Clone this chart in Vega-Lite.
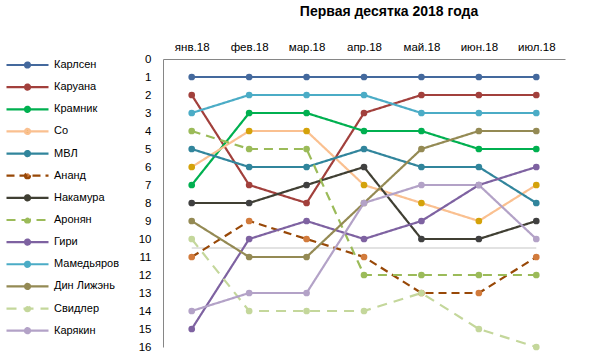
{
  "$schema": "https://vega.github.io/schema/vega-lite/v6.json",
  "width": 402,
  "height": 288,
  "autosize": {"type": "none"},
  "padding": {"left": 163, "top": 59, "right": 33, "bottom": 17},
  "background": "white",
  "title": {"text": "Первая десятка 2018 года", "font": "Liberation Sans", "fontSize": 14, "fontWeight": "bold", "color": "#000000", "anchor": "middle", "frame": "group", "dx": 25, "offset": 22},
  "config": {"view": {"stroke": null}, "font": "Liberation Sans", "axisY": {"labelOverlap": false, "tickCount": 17}},
  "data": {"values": [
    {"name": "Карлсен", "m": "янв.18", "r": 1}, {"name": "Карлсен", "m": "фев.18", "r": 1}, {"name": "Карлсен", "m": "мар.18", "r": 1}, {"name": "Карлсен", "m": "апр.18", "r": 1}, {"name": "Карлсен", "m": "май.18", "r": 1}, {"name": "Карлсен", "m": "июн.18", "r": 1}, {"name": "Карлсен", "m": "июл.18", "r": 1},
    {"name": "Каруана", "m": "янв.18", "r": 2}, {"name": "Каруана", "m": "фев.18", "r": 7}, {"name": "Каруана", "m": "мар.18", "r": 8}, {"name": "Каруана", "m": "апр.18", "r": 3}, {"name": "Каруана", "m": "май.18", "r": 2}, {"name": "Каруана", "m": "июн.18", "r": 2}, {"name": "Каруана", "m": "июл.18", "r": 2},
    {"name": "Крамник", "m": "янв.18", "r": 7}, {"name": "Крамник", "m": "фев.18", "r": 3}, {"name": "Крамник", "m": "мар.18", "r": 3}, {"name": "Крамник", "m": "апр.18", "r": 4}, {"name": "Крамник", "m": "май.18", "r": 4}, {"name": "Крамник", "m": "июн.18", "r": 5}, {"name": "Крамник", "m": "июл.18", "r": 5},
    {"name": "Со", "m": "янв.18", "r": 6}, {"name": "Со", "m": "фев.18", "r": 4}, {"name": "Со", "m": "мар.18", "r": 4}, {"name": "Со", "m": "апр.18", "r": 7}, {"name": "Со", "m": "май.18", "r": 8}, {"name": "Со", "m": "июн.18", "r": 9}, {"name": "Со", "m": "июл.18", "r": 7},
    {"name": "МВЛ", "m": "янв.18", "r": 5}, {"name": "МВЛ", "m": "фев.18", "r": 6}, {"name": "МВЛ", "m": "мар.18", "r": 6}, {"name": "МВЛ", "m": "апр.18", "r": 5}, {"name": "МВЛ", "m": "май.18", "r": 6}, {"name": "МВЛ", "m": "июн.18", "r": 6}, {"name": "МВЛ", "m": "июл.18", "r": 8},
    {"name": "Ананд", "m": "янв.18", "r": 11}, {"name": "Ананд", "m": "фев.18", "r": 9}, {"name": "Ананд", "m": "мар.18", "r": 10}, {"name": "Ананд", "m": "апр.18", "r": 11}, {"name": "Ананд", "m": "май.18", "r": 13}, {"name": "Ананд", "m": "июн.18", "r": 13}, {"name": "Ананд", "m": "июл.18", "r": 11},
    {"name": "Накамура", "m": "янв.18", "r": 8}, {"name": "Накамура", "m": "фев.18", "r": 8}, {"name": "Накамура", "m": "мар.18", "r": 7}, {"name": "Накамура", "m": "апр.18", "r": 6}, {"name": "Накамура", "m": "май.18", "r": 10}, {"name": "Накамура", "m": "июн.18", "r": 10}, {"name": "Накамура", "m": "июл.18", "r": 9},
    {"name": "Аронян", "m": "янв.18", "r": 4}, {"name": "Аронян", "m": "фев.18", "r": 5}, {"name": "Аронян", "m": "мар.18", "r": 5}, {"name": "Аронян", "m": "апр.18", "r": 12}, {"name": "Аронян", "m": "май.18", "r": 12}, {"name": "Аронян", "m": "июн.18", "r": 12}, {"name": "Аронян", "m": "июл.18", "r": 12},
    {"name": "Гири", "m": "янв.18", "r": 15}, {"name": "Гири", "m": "фев.18", "r": 10}, {"name": "Гири", "m": "мар.18", "r": 9}, {"name": "Гири", "m": "апр.18", "r": 10}, {"name": "Гири", "m": "май.18", "r": 9}, {"name": "Гири", "m": "июн.18", "r": 7}, {"name": "Гири", "m": "июл.18", "r": 6},
    {"name": "Мамедьяров", "m": "янв.18", "r": 3}, {"name": "Мамедьяров", "m": "фев.18", "r": 2}, {"name": "Мамедьяров", "m": "мар.18", "r": 2}, {"name": "Мамедьяров", "m": "апр.18", "r": 2}, {"name": "Мамедьяров", "m": "май.18", "r": 3}, {"name": "Мамедьяров", "m": "июн.18", "r": 3}, {"name": "Мамедьяров", "m": "июл.18", "r": 3},
    {"name": "Дин Лижэнь", "m": "янв.18", "r": 9}, {"name": "Дин Лижэнь", "m": "фев.18", "r": 11}, {"name": "Дин Лижэнь", "m": "мар.18", "r": 11}, {"name": "Дин Лижэнь", "m": "апр.18", "r": 8}, {"name": "Дин Лижэнь", "m": "май.18", "r": 5}, {"name": "Дин Лижэнь", "m": "июн.18", "r": 4}, {"name": "Дин Лижэнь", "m": "июл.18", "r": 4},
    {"name": "Свидлер", "m": "янв.18", "r": 10}, {"name": "Свидлер", "m": "фев.18", "r": 14}, {"name": "Свидлер", "m": "мар.18", "r": 14}, {"name": "Свидлер", "m": "апр.18", "r": 14}, {"name": "Свидлер", "m": "май.18", "r": 13}, {"name": "Свидлер", "m": "июн.18", "r": 15}, {"name": "Свидлер", "m": "июл.18", "r": 16},
    {"name": "Карякин", "m": "янв.18", "r": 14}, {"name": "Карякин", "m": "фев.18", "r": 13}, {"name": "Карякин", "m": "мар.18", "r": 13}, {"name": "Карякин", "m": "апр.18", "r": 8}, {"name": "Карякин", "m": "май.18", "r": 7}, {"name": "Карякин", "m": "июн.18", "r": 7}, {"name": "Карякин", "m": "июл.18", "r": 10}
  ]},
  "encoding": {
    "y": {"field": "r", "type": "quantitative", "scale": {"domain": [0, 16], "reverse": true, "nice": false, "zero": false},
          "axis": {"title": null, "values": [0,1,2,3,4,5,6,7,8,9,10,11,12,13,14,15,16], "tickCount": 17, "labelOverlap": false, "grid": false, "ticks": false, "domainColor": "#868686", "domainWidth": 1, "labelPadding": 12, "labelFont": "Liberation Sans", "labelFontSize": 11.5, "labelColor": "#000000"}}
  },
  "layer": [
    {
      "data": {"values": [{"m1": "янв.18", "m2": "июл.18", "r": 10.5}]},
      "mark": {"type": "rule", "color": "#D9D9D9", "strokeWidth": 1.5},
      "encoding": {
        "x": {"field": "m1", "type": "ordinal", "scale": {"type": "point", "padding": 0.5, "domain": ["янв.18", "фев.18", "мар.18", "апр.18", "май.18", "июн.18", "июл.18"]},
              "axis": {"orient": "top", "title": null, "labelAngle": 0, "ticks": false, "domainColor": "#868686", "domainWidth": 1, "labelPadding": 7, "labelFont": "Liberation Sans", "labelFontSize": 11.5, "labelColor": "#000000"}},
        "x2": {"field": "m2"}
      }
    },
    {
      "mark": {"type": "line", "strokeWidth": 2.2},
      "encoding": {
        "x": {"field": "m", "type": "ordinal"},
        "stroke": {"field": "name", "type": "nominal",
          "scale": {"domain": ["Карлсен", "Каруана", "Крамник", "Со", "МВЛ", "Ананд", "Накамура", "Аронян", "Гири", "Мамедьяров", "Дин Лижэнь", "Свидлер", "Карякин"],
                    "range": ["#44699D", "#A2403C", "#00B050", "#FAC090", "#31859C", "#984807", "#403F33", "#9BBB59", "#7E62A1", "#4BACC6", "#948A54", "#C4D79B", "#B3A2C7"]},
          "legend": {"orient": "none", "legendX": -158, "legendY": -2, "title": null, "padding": 0,
                     "symbolType": "M-1,0H1M-0.12,0A0.12,0.12 0 1,0 0.12,0A0.12,0.12 0 1,0 -0.12,0Z",
                     "symbolSize": 1764, "symbolStrokeWidth": 2.2, "clipHeight": 16, "rowPadding": 6.14,
                     "labelFont": "Liberation Sans", "labelFontSize": 11, "labelColor": "#000000", "labelOffset": 4,
                     "encode": {"symbols": {"update": {"fill": {"scale": "fill", "field": "value"}, "fillOpacity": {"value": 1}, "strokeDash": {"scale": "strokeDash", "field": "value"}}}}}},
        "strokeDash": {"field": "name", "type": "nominal",
          "scale": {"domain": ["Карлсен", "Каруана", "Крамник", "Со", "МВЛ", "Ананд", "Накамура", "Аронян", "Гири", "Мамедьяров", "Дин Лижэнь", "Свидлер", "Карякин"],
                    "range": [[1,0],[1,0],[1,0],[1,0],[1,0],[8,5],[1,0],[9,6],[1,0],[1,0],[1,0],[10,7],[1,0]]},
          "legend": null}
      }
    },
    {
      "mark": {"type": "point", "filled": true, "size": 45, "opacity": 1},
      "encoding": {
        "x": {"field": "m", "type": "ordinal"},
        "fill": {"field": "name", "type": "nominal",
          "scale": {"domain": ["Карлсен", "Каруана", "Крамник", "Со", "МВЛ", "Ананд", "Накамура", "Аронян", "Гири", "Мамедьяров", "Дин Лижэнь", "Свидлер", "Карякин"],
                    "range": ["#44699D", "#A2403C", "#00B050", "#D4A20A", "#31859C", "#D27B3C", "#404040", "#9BBB59", "#7E62A1", "#4BACC6", "#948A54", "#C4D79B", "#B3A2C7"]},
          "legend": null}
      }
    }
  ]
}
